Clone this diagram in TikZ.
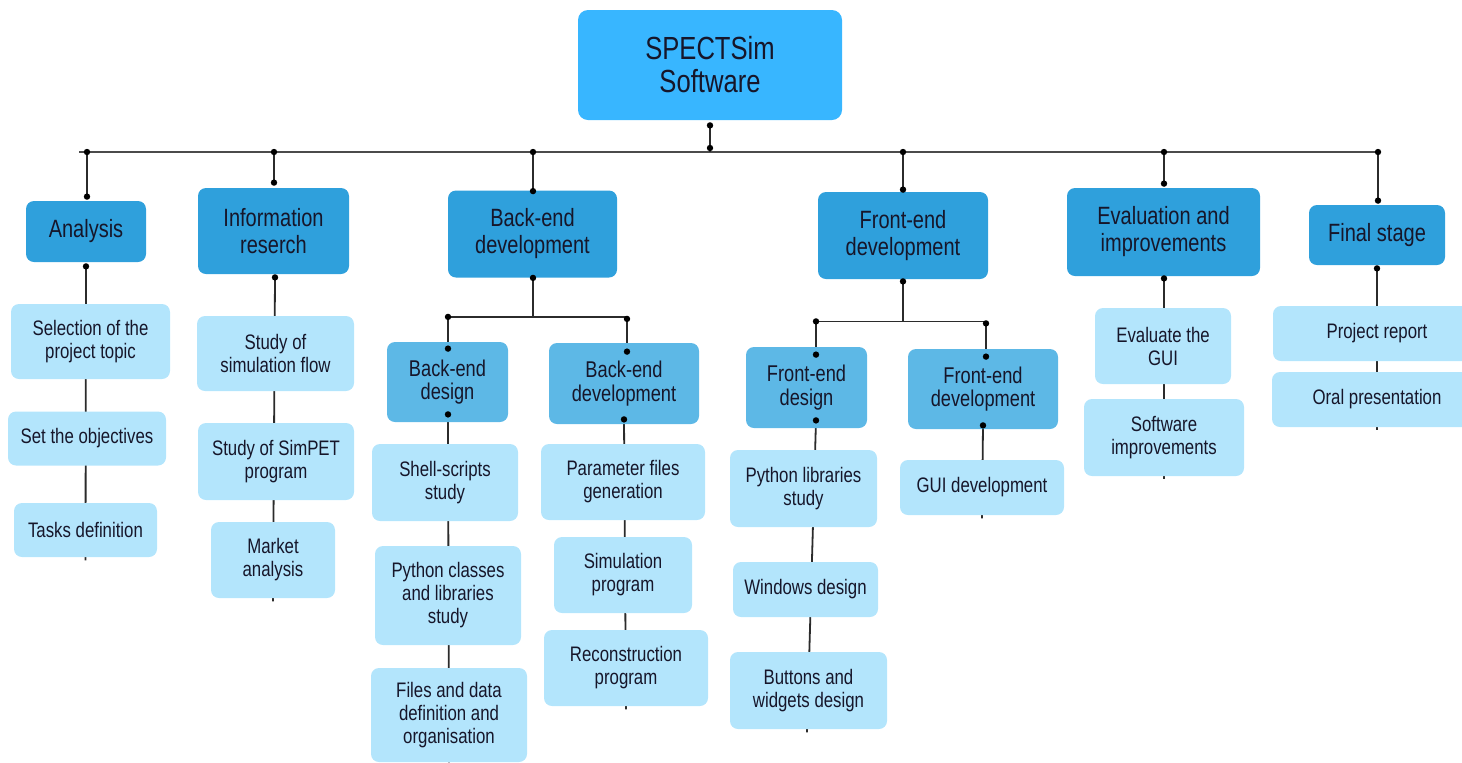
\documentclass[tikz,border=0pt]{standalone}
\usepackage{fontspec}
\setmainfont{Liberation Sans}[FakeStretch=0.8]
\usetikzlibrary{calc}
\pgfdeclarelayer{bg}
\pgfsetlayers{bg,main}

\definecolor{rootblue}{HTML}{38B6FF}
\definecolor{phaseblue}{HTML}{2FA0DC}
\definecolor{subblue}{HTML}{5DB8E6}
\definecolor{taskblue}{HTML}{B3E5FC}
\definecolor{ink}{HTML}{16162A}
\definecolor{wirecol}{HTML}{2B2B2B}

\tikzset{
  sz/.style 2 args={minimum width=#1*0.5pt, minimum height=#2*0.5pt},
  box/.style={rounded corners=4pt, inner sep=0pt, align=center, text=ink, draw=none},
  rootbox/.style={box, rounded corners=5pt, fill=rootblue, font=\fontsize{16}{16.5}\selectfont},
  phasebox/.style={box, fill=phaseblue, font=\fontsize{12.5}{13.5}\selectfont},
  subbox/.style={box, fill=subblue, font=\fontsize{11.4}{11.8}\selectfont},
  taskbox/.style={box, fill=taskblue, font=\fontsize{10.5}{11.5}\selectfont},
  wire/.style={draw=wirecol, line width=0.9pt},
  busline/.style={draw=wirecol!85, line width=1pt},
  joint/.style={fill=black}
}

\begin{document}
\begin{tikzpicture}[x=0.5pt, y=-0.5pt]
\clip (0,0) rectangle (1462,762);
\useasboundingbox (0,0) rectangle (1462,762);

% ---- root and phases
\node[rootbox, sz={264}{110}] (root) at (710,65) {SPECTSim\\Software};

\node[phasebox, sz={120}{61}] (an) at (86,231.5) {Analysis};
\node[phasebox, sz={151}{86}] (ir) at (273.5,231) {Information\\reserch};
\node[phasebox, sz={169}{87}] (bd) at (532.5,234) {Back-end\\development};
\node[phasebox, sz={170}{87}] (fd) at (903,235.5) {Front-end\\development};
\node[phasebox, sz={193}{88}] (ev) at (1163.5,232) {Evaluation and\\improvements};
\node[phasebox, sz={136}{60}] (fs) at (1377,235) {Final stage};

% ---- analysis tasks
\node[taskbox, sz={159}{75}] (a1) at (90.5,341.5) {Selection of the\\project topic};
\node[taskbox, sz={158}{54}] (a2) at (87,438.5) {Set the objectives};
\node[taskbox, sz={143}{54}] (a3) at (85.5,530) {Tasks definition};

% ---- information research tasks
\node[taskbox, sz={157}{75}] (i1) at (275.5,353.5) {Study of\\simulation flow};
\node[taskbox, sz={156}{77}] (i2) at (276,461.5) {Study of SimPET\\program};
\node[taskbox, sz={124}{76}] (i3) at (273,560) {Market\\analysis};

% ---- back-end
\node[subbox, sz={121}{80}] (bd1) at (447.5,382) {Back-end\\design};
\node[subbox, sz={150}{81}] (bd2) at (624,383.5) {Back-end\\development};
\node[taskbox, sz={146}{77}] (b11) at (445,482.5) {Shell-scripts\\study};
\node[taskbox, sz={146}{99}] (b12) at (448,595.5) {Python classes\\and libraries\\study};
\node[taskbox, sz={156}{94}] (b13) at (449,715) {Files and data\\definition and\\organisation};
\node[taskbox, sz={164}{76}] (b21) at (623,482) {Parameter files\\generation};
\node[taskbox, sz={138}{76}] (b22) at (623,575) {Simulation\\program};
\node[taskbox, sz={164}{76}] (b23) at (626,668) {Reconstruction\\program};

% ---- front-end
\node[subbox, sz={121}{81}] (fd1) at (806.5,387.5) {Front-end\\design};
\node[subbox, sz={150}{80}] (fd2) at (983,389) {Front-end\\development};
\node[taskbox, sz={147}{77}] (f11) at (803.5,488.5) {Python libraries\\study};
\node[taskbox, sz={145}{55}] (f12) at (805.5,589.5) {Windows design};
\node[taskbox, sz={157}{77}] (f13) at (808.5,690.5) {Buttons and\\widgets design};
\node[taskbox, sz={164}{55}] (f21) at (982,487.5) {GUI development};

% ---- evaluation
\node[taskbox, sz={136}{76}] (e1) at (1163,346) {Evaluate the\\GUI};
\node[taskbox, sz={160}{77}] (e2) at (1164,437.5) {Software\\improvements};

% ---- final stage
\node[taskbox, sz={208}{55}] (s1) at (1377,333.5) {Project report};
\node[taskbox, sz={210}{55}] (s2) at (1377,399.5) {Oral presentation};

% ---- connector end points
\coordinate (busL) at (79,152);
\coordinate (busR) at (1378,152);
\coordinate (root-out) at ($(root.south)+(0,5)$);
\coordinate (root-bus) at (root.south |- busL);

\coordinate (an-in) at ($(an.north)+(1,-4)$);
\coordinate (ir-in) at ($(ir.north)+(0.5,-5)$);
\coordinate (bd-in) at ($(bd.north)+(0.5,1)$);
\coordinate (fd-in) at ($(fd.north)+(0,-2)$);
\coordinate (ev-in) at ($(ev.north)+(0.5,-4)$);
\coordinate (fs-in) at ($(fs.north)+(1,-4)$);

\coordinate (an-out) at ($(an.south)+(0,4)$);
\coordinate (ir-out) at ($(ir.south)+(1.5,3)$);
\coordinate (bd-out) at ($(bd.south)+(0.5,0)$);
\coordinate (fd-out) at ($(fd.south)+(0,2)$);
\coordinate (ev-out) at ($(ev.south)+(0.5,2)$);
\coordinate (fs-out) at ($(fs.south)+(0,3)$);

\coordinate (bd-split) at ($(bd-out)+(0,39)$);
\coordinate (bd1-in) at ($(bd1.north)+(0.5,7)$);
\coordinate (bd2-in) at ($(bd2.north)+(3,9)$);
\coordinate (bd1-out) at ($(bd1.south)+(0.5,-8)$);
\coordinate (bd2-out) at ($(bd2.south)+(0,-5)$);

\coordinate (fd-split) at ($(fd-out)+(0,40)$);
\coordinate (fd1-in) at ($(fd1.north)+(9.5,8)$);
\coordinate (fd2-in) at ($(fd2.north)+(3,8)$);
\coordinate (fd1-out) at ($(fd1.south)+(9.5,-8)$);
\coordinate (fd2-out) at ($(fd2.south)+(0,-4)$);

% ---- connectors, behind the boxes
\begin{pgfonlayer}{bg}
  \draw[busline] (busL) -- (busR);
  \draw[wire] (root-out) -- (root-bus);
  \foreach \p in {an,ir,bd,fd,ev,fs}
    \draw[wire] (\p-in |- busL) -- (\p-in);

  % task columns
  \draw[wire] (an-out) -- ($(a3.south)+(0,3)$);
  \draw[wire] (ir-out) -- ($(i3.south)+(0,3)$);
  \draw[wire] (ev-out) -- ($(e2.south)+(0,3)$);
  \draw[wire] (fs-out) -- ($(s2.south)+(0,3)$);

  % back-end split
  \draw[wire] (bd-out) -- (bd-split);
  \draw[wire] (bd1-in |- bd-split) -- (bd2-in |- bd-split);
  \draw[wire] (bd1-in |- bd-split) -- (bd1-in);
  \draw[wire] (bd2-in |- bd-split) -- (bd2-in);
  \draw[wire] (bd1-out) -- (b13.south);
  \draw[wire] (bd2-out) -- ($(b23.south)+(0,3)$);

  % front-end split
  \draw[wire] (fd-out) -- (fd-split);
  \draw[wire] (fd1-in |- fd-split) -- (fd2-in |- fd-split);
  \draw[wire] (fd1-in |- fd-split) -- (fd1-in);
  \draw[wire] (fd2-in |- fd-split) -- (fd2-in);
  \draw[wire] (fd1-out) -- ($(f13.south)+(-1.5,3)$);
  \draw[wire] (fd2-out) -- ($(f21.south)+(0,3)$);
\end{pgfonlayer}

% ---- joint dots
\foreach \c in {root-out, an-in, ir-in, bd-in, fd-in, ev-in, fs-in,
                an-out, ir-out, bd-out, fd-out, ev-out, fs-out,
                bd1-in, bd2-in, bd1-out, bd2-out,
                fd1-in, fd2-in, fd1-out, fd2-out}
  \fill[joint] (\c) circle (1.6pt);
\fill[joint] ($(root-bus)+(0,-4)$) circle (1.6pt);
\foreach \p in {an,ir,bd,fd,ev,fs}
  \fill[joint] (\p-in |- busL) circle (1.6pt);
\fill[joint] (bd1-in |- bd-split) circle (1.6pt);
\fill[joint] ($(bd2-in |- bd-split)+(0,2)$) circle (1.6pt);
\fill[joint] (fd1-in |- fd-split) circle (1.6pt);
\fill[joint] ($(fd2-in |- fd-split)+(0,2)$) circle (1.6pt);
\end{tikzpicture}
\end{document}
